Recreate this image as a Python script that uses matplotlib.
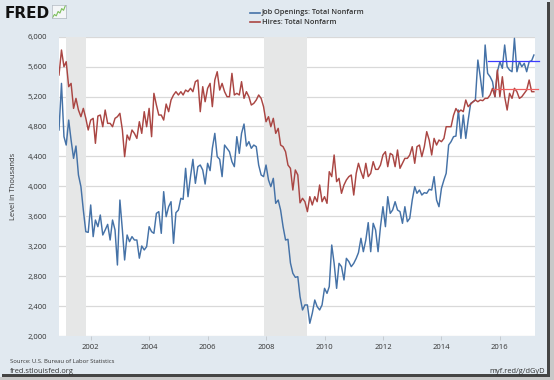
import pandas as pd
import matplotlib
matplotlib.use('Agg')
import matplotlib.pyplot as plt
import matplotlib.dates as mdates
from matplotlib.lines import Line2D
from matplotlib.patches import Rectangle
from matplotlib.ticker import FuncFormatter

plt.rcParams['font.family'] = ['Open Sans', 'DejaVu Sans']

# monthly series, Dec 2000 .. Mar 2017 (thousands)
first_month = '2000-12-01'
job_openings = [
    4753, 5376, 4664, 4552, 4886, 4619, 4374, 4539, 4152, 3996, 3684, 3394,
    3385, 3751, 3328, 3550, 3461, 3617, 3350, 3417, 3492, 3283, 3550, 3417,
    2949, 3817, 3417, 3016, 3350, 3261, 3328, 3283, 3283, 3040, 3203, 3150,
    3194, 3461, 3394, 3372, 3639, 3662, 3372, 3929, 3595, 3728, 3795, 3239,
    3648, 3684, 3840, 3826, 4241, 3862, 4130, 4361, 4040, 4263, 4285, 4219,
    4031, 4308, 4210, 4508, 4708, 4397, 4361, 4130, 4552, 4508, 4463, 4330,
    4263, 4664, 4441, 4708, 4833, 4539, 4597, 4508, 4552, 4530, 4285, 4152,
    4130, 4285, 4085, 3996, 4107, 3773, 3817, 3684, 3461, 3283, 3292, 2976,
    2838, 2784, 2793, 2526, 2348, 2415, 2415, 2170, 2304, 2481, 2392, 2348,
    2415, 2637, 2570, 2660, 3216, 2971, 2637, 2971, 2927, 2749, 3038, 2994,
    2927, 2971, 3038, 3114, 3306, 3127, 3283, 3515, 3127, 3506, 3417, 3127,
    3461, 3728, 3461, 3862, 3639, 3684, 3795, 3684, 3662, 3506, 3728, 3528,
    3573, 3817, 3996, 3907, 3951, 3884, 3916, 3907, 3960, 3951, 4130, 3817,
    3728, 3973, 4085, 4174, 4552, 4597, 4664, 4672, 5020, 4641, 4953, 4641,
    4886, 5109, 5131, 5154, 5688, 5465, 5198, 5889, 5510, 5465, 5399, 5198,
    5532, 5666, 5577, 5889, 5599, 5555, 5532, 5978, 5532, 5666, 5599, 5644,
    5532, 5666, 5679, 5755,
]
hires = [
    5488, 5822, 5599, 5666, 5332, 5376, 5042, 5176, 5020, 4931, 5042, 4909,
    4753, 4886, 4909, 4575, 4940, 4953, 4797, 5020, 4842, 4842, 4797, 4909,
    4931, 4976, 4753, 4397, 4686, 4619, 4753, 4708, 4641, 4864, 4708, 4998,
    4797, 5042, 4664, 5243, 5087, 4953, 4953, 4886, 5100, 4998, 5154, 5221,
    5265, 5221, 5265, 5221, 5287, 5265, 5310, 5265, 5399, 5421, 4998, 5332,
    5131, 5310, 5376, 5065, 5421, 5532, 5287, 5376, 5265, 5198, 5198, 5510,
    5221, 5243, 5221, 5399, 5176, 5265, 5198, 5087, 5109, 5154, 5221, 5176,
    5065, 4864, 4931, 4797, 4909, 4708, 4775, 4552, 4530, 4463, 4285, 4241,
    3951, 4219, 4152, 3780, 3840, 3795, 3662, 3862, 3751, 3862, 3795, 4018,
    3795, 3862, 3773, 4196, 4130, 4419, 4063, 4107, 3907, 4018, 4085, 4130,
    4152, 3884, 4174, 4308, 4196, 4107, 4308, 4130, 4174, 4330, 4227, 4227,
    4285, 4419, 4463, 4263, 4441, 4419, 4263, 4486, 4241, 4308, 4374, 4374,
    4419, 4530, 4308, 4530, 4552, 4397, 4530, 4731, 4619, 4419, 4641, 4552,
    4619, 4597, 4641, 4797, 4797, 4797, 4950, 5040, 4990, 5020, 4998, 5154,
    5065, 5100, 5131, 5154, 5131, 5154, 5145, 5176, 5176, 5221, 5310, 5198,
    5555, 5198, 5465, 5198, 5020, 5243, 5176, 5310, 5265, 5176, 5198, 5243,
    5287, 5421, 5265, 5265,
]
recessions = [('2001-03-01', '2001-11-01'), ('2007-12-01', '2009-06-01')]
year_ticks = [2002, 2004, 2006, 2008, 2010, 2012, 2014, 2016]
level_ticks = [2000, 2400, 2800, 3200, 3600, 4000, 4400, 4800, 5200, 5600, 6000]
# hand-drawn reference lines on the screenshot
ref_open = (5680, '2015-08-10', '2017-05-10')
ref_hire = (5296, '2015-10-01', '2017-04-20')
icon_y = [1, 2.5, 1.8, 4, 3.2, 5.5, 4.6, 7]

W, H = 554, 380
bg = '#e1e9f0'
blue = '#4572a7'
red = '#aa4643'

months = pd.date_range(first_month, periods=len(job_openings), freq='MS')

fig = plt.figure(figsize=(W / 100, H / 100), dpi=100, facecolor=bg)


def fx(x):
    return x / W


def fy(y):
    return 1 - y / H


ax = fig.add_axes([fx(59), fy(336), fx(535) - fx(59), fy(36.7) - fy(336)])
ax.set_facecolor('white')

for a, b in recessions:
    ax.axvspan(pd.Timestamp(a), pd.Timestamp(b), color='#e6e7e7', lw=0, zorder=1)

ax.plot(months, job_openings, color=blue, lw=1.05, zorder=3)
ax.plot(months, hires, color=red, lw=1.05, zorder=3)

# reference lines drawn over the chart
ax.plot([pd.Timestamp(ref_open[1]), pd.Timestamp(ref_open[2])], [ref_open[0]] * 2,
        color='#3b3bff', lw=0.9, zorder=4, clip_on=False)
ax.plot([pd.Timestamp(ref_hire[1]), pd.Timestamp(ref_hire[2])], [ref_hire[0]] * 2,
        color='#f06060', lw=0.9, zorder=4, clip_on=False)

ax.set_xlim(pd.Timestamp('2000-12-01'), pd.Timestamp('2017-03-15'))
ax.set_ylim(2000, 6000)
ax.set_xticks([pd.Timestamp(f'{y}-01-01') for y in year_ticks])
ax.xaxis.set_major_formatter(mdates.DateFormatter('%Y'))
ax.set_yticks(level_ticks)
ax.yaxis.set_major_formatter(FuncFormatter(lambda v, p: f'{int(v):,}'))
ax.yaxis.grid(True, color='#d9d9d9', lw=0.9, zorder=2)
ax.set_axisbelow(True)
for s in ax.spines.values():
    s.set_visible(False)
ax.tick_params(axis='x', length=3, width=0.6, color='#c0c6cc', pad=2.5,
               labelsize=5.5, labelcolor='#333333')
ax.tick_params(axis='y', length=0, pad=8.5, labelsize=5.5, labelcolor='#333333')
ax.set_ylabel('Level in Thousands', fontsize=5.5, color='#333333', labelpad=8)

# legend
fig.add_artist(Line2D([fx(250), fx(260)], [fy(12.5)] * 2, color=blue, lw=1.2))
fig.add_artist(Line2D([fx(250), fx(260)], [fy(22)] * 2, color=red, lw=1.2))
fig.text(fx(262), fy(12.5), 'Job Openings: Total Nonfarm', fontsize=5.3,
         fontweight='semibold', color='#333333', va='center')
fig.text(fx(262), fy(22), 'Hires: Total Nonfarm', fontsize=5.3,
         fontweight='semibold', color='#333333', va='center')

# FRED logo
fig.text(fx(5), fy(13), 'FRED', fontsize=11, fontweight='heavy', color='#111111',
         va='center', family=['DejaVu Sans'])
iax = fig.add_axes([fx(52), fy(18), fx(14), fy(0) - fy(13)])
iax.set_facecolor('#f4f6f8')
iax.plot(range(len(icon_y)), icon_y, color='#7cbf5a', lw=0.8)
iax.set_xticks([])
iax.set_yticks([])
for s in iax.spines.values():
    s.set_color('#b0b8c0')
    s.set_linewidth(0.5)

# footer
fig.text(fx(10), fy(361.5), 'Source: U.S. Bureau of Labor Statistics', fontsize=4.2,
         color='#333333', va='center')
fig.text(fx(10), fy(371.5), 'fred.stlouisfed.org', fontsize=5.4, color='#333333', va='center')
fig.text(fx(545), fy(371.5), 'myf.red/g/dGyD', fontsize=5.4, color='#333333',
         va='center', ha='right')

# screenshot frame shadow
fig.add_artist(Rectangle((fx(547), fy(377)), fx(3), fy(2) - fy(377),
                         transform=fig.transFigure, color='#444444', lw=0))
fig.add_artist(Rectangle((fx(2), fy(377)), fx(548) - fx(2), fy(374) - fy(377),
                         transform=fig.transFigure, color='#444444', lw=0))
fig.add_artist(Rectangle((fx(550), 0), 1 - fx(550), 1,
                         transform=fig.transFigure, color='#c8c8c8', lw=0))
fig.add_artist(Rectangle((0, 0), 1, fy(377),
                         transform=fig.transFigure, color='#c8c8c8', lw=0))

fig.savefig('out.png', dpi=100, facecolor=fig.get_facecolor())
